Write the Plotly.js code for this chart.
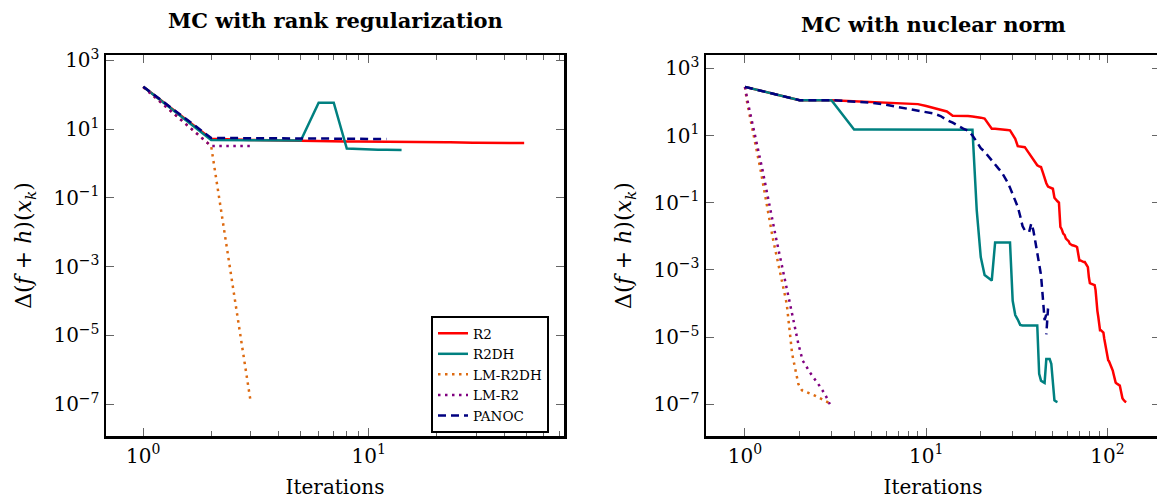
<!DOCTYPE html>
<html><head><meta charset="utf-8">
<script src="https://cdn.plot.ly/plotly-3.0.1.min.js"></script>
<style>html,body{margin:0;padding:0;overflow:hidden;background:#fff}#chart{width:1170px;height:499px}</style>
</head><body><div id="chart"></div>
<script>
// ---------- data ----------
const seriesNames = ['R2', 'R2DH', 'LM-R2DH', 'LM-R2', 'PANOC'];
const seriesColors = ['#ff0000', '#008080', '#dd6a10', '#800080', '#000080'];

// Left panel: MC with rank regularization (value per iteration 1..n)
const rankR2 = [170, 5.2, 4.8, 4.6, 4.5, 4.4, 4.35, 4.3, 4.3, 4.25,
  4.25, 4.2, 4.2, 4.2, 4.2, 4.15, 4.15, 4.15, 4.1, 4.1,
  4.1, 4.1, 4.1, 4.05, 4.05, 4.05, 4.05, 4.0, 4.0, 4.0,
  4.0, 4.0, 4.0, 4.0, 3.98, 3.98, 3.97, 3.97, 3.96, 3.96,
  3.95, 3.95, 3.95, 3.94, 3.94, 3.93, 3.93, 3.92, 3.92];
const rankR2DH = [170, 4.8, 4.7, 4.6, 4.6, 58, 58, 2.7, 2.6, 2.55, 2.5, 2.5, 2.45, 2.45];
const rankLMR2DH = [165, 3.2, 1.1e-7];
const rankLMR2 = [165, 3.2, 3.2];
const rankPANOC = [170, 5.5, 5.4, 5.4, 5.3, 5.3, 5.2, 5.2, 5.2, 5.1, 5.1, 5.1];

// Right panel: MC with nuclear norm
const nucR2 = [280, 113, 113, 105, 97, 93, 90, 88, 86, 76,
  66, 58, 52, 39, 39, 38, 38, 37, 36, 34,
  32, 22, 16, 16, 15.8, 15.5, 15, 14.6, 14.2, 11,
  8, 4.8, 4.7, 4.6, 4.5, 3.6, 2.9, 2.3, 1.9, 1.5,
  1.3, 1.2, 1.15, 0.8, 0.52, 0.38, 0.3, 0.29, 0.27, 0.26,
  0.14, 0.12, 0.11, 0.1, 0.019, 0.016, 0.012, 0.011, 0.0085, 0.0078,
  0.0072, 0.006, 0.0056, 0.0054, 0.0053, 0.0052, 0.005, 0.0047, 0.0025, 0.0019,
  0.0019, 0.0018, 0.0018, 0.0017, 0.0017, 0.0015, 0.0013, 0.0012, 6e-4, 4e-4,
  3.9e-4, 3.8e-4, 3.7e-4, 3.6e-4, 3.5e-4, 2.5e-4, 9e-5, 6e-5, 4e-5, 2.5e-5,
  1.6e-5, 1.6e-5, 1.5e-5, 1.4e-5, 1.35e-5, 9e-6, 6.3e-6, 4.5e-6, 3e-6, 2.2e-6,
  2e-6, 1.9e-6, 1.7e-6, 1.5e-6, 1.3e-6, 1.1e-6, 1e-6, 8e-7, 6e-7, 4.6e-7,
  4.4e-7, 4.2e-7, 4e-7, 3.9e-7, 3.8e-7, 3.7e-7, 3.6e-7, 2.8e-7, 2e-7, 1.6e-7,
  1.5e-7, 1.4e-7, 1.3e-7, 1.25e-7, 1.2e-7, 1.18e-7, 1.15e-7];
const nucR2DH = [280, 113, 113,
  15, 15, 15, 15, 15, 15, 15, 15, 15, 15, 15, 15, 15, 15,
  14.8, 0.06, 2.4e-3, 7e-4, 5.7e-4, 4.8e-4,
  6.5e-3, 6.5e-3, 6.5e-3, 6.5e-3, 6.5e-3, 6.5e-3,
  1.2e-4, 4.5e-5, 3.3e-5, 2.3e-5,
  2.2e-5, 2.2e-5, 2.2e-5, 2.2e-5, 2.2e-5, 2.2e-5, 2.2e-5, 2.2e-5,
  8e-7, 5e-7, 4.6e-7, 4.3e-7,
  2.2e-6, 2.2e-6, 2.2e-6,
  1.6e-6, 4.2e-7, 1.3e-7, 1.2e-7, 1.15e-7];
const nucLMR2DHIter = [1, 1.03, 1.22, 1.42, 1.7, 1.82, 1.97, 2.06, 2.43, 2.9];
const nucLMR2DH = [280, 90, 0.93, 9.5e-3, 9.8e-5, 3.2e-6, 4e-7, 2.6e-7, 1.8e-7, 1.1e-7];
const nucLMR2Iter = [1, 1.04, 1.25, 1.48, 1.77, 1.97, 2.08, 2.31, 2.57, 2.76, 2.94];
const nucLMR2 = [280, 90, 0.93, 9.5e-3, 1e-4, 6.3e-6, 2e-6, 8e-7, 3.6e-7, 2e-7, 1e-7];
const nucPANOCIter = [1, 2, 3, 4, 5, 6, 7, 8, 9, 10, 11, 12, 13, 14, 15, 16, 17, 18, 19, 20,
  21, 22, 23, 24, 25, 26, 27, 28, 29, 30, 31, 32, 33, 34, 35, 36, 37, 38, 39, 40,
  41, 42, 43, 44, 45, 47, 46];
const nucPANOC = [280, 113, 113, 105, 95, 82, 70, 62, 55, 50, 45, 38, 29, 24, 19, 16, 14, 10, 6.5, 4.2,
  3.3, 2.4, 1.8, 1.3, 1.05, 0.83, 0.6, 0.42, 0.28, 0.17, 0.11, 0.075, 0.04, 0.02, 0.015, 0.014, 0.0135, 0.024, 0.015, 0.007,
  0.0035, 0.0016, 7e-4, 1.5e-4, 3.2e-5, 7e-5, 1.2e-5];

// ticks
const xTickVals = [1, 10, 100];
const xTickText = ['10<sup>0</sup>', '10<sup>1</sup>', '10<sup>2</sup>'];
const xMinorVals = [2, 3, 4, 5, 6, 7, 8, 9, 20, 30, 40, 50, 60, 70, 80, 90, 200, 300, 400, 500, 600, 700, 800, 900];
const yTickVals = [1e-7, 1e-5, 1e-3, 1e-1, 1e1, 1e3];
const yTickText = ['10<sup>−7</sup>', '10<sup>−5</sup>', '10<sup>−3</sup>', '10<sup>−1</sup>', '10<sup>1</sup>', '10<sup>3</sup>'];
const panelTitles = ['MC with rank regularization', 'MC with nuclear norm'];
const xTitle = 'Iterations';
const yTitle = 'Δ(<i>f</i> + <i>h</i>)(<i>x</i><sub><i>k</i></sub>)';

// ---------- build ----------
const iters = v => v.map((_, i) => i + 1);
const dashes = ['solid', 'solid', '2.5px,4.5px', '2.5px,4.5px', '8px,5px'];
function tr(k, x, y, ax, show) {
  return {
    type: 'scatter', mode: 'lines', x: x, y: y, name: seriesNames[k],
    xaxis: ax === 1 ? 'x' : 'x2', yaxis: ax === 1 ? 'y' : 'y2',
    legendgroup: seriesNames[k], showlegend: show,
    line: {color: seriesColors[k], width: 2.5, dash: dashes[k]},
    hoverinfo: 'x+y+name'
  };
}
const data = [
  tr(0, iters(rankR2), rankR2, 1, true),
  tr(1, iters(rankR2DH), rankR2DH, 1, true),
  tr(2, iters(rankLMR2DH), rankLMR2DH, 1, true),
  tr(3, iters(rankLMR2), rankLMR2, 1, true),
  tr(4, iters(rankPANOC), rankPANOC, 1, true),
  tr(0, iters(nucR2), nucR2, 2, false),
  tr(1, iters(nucR2DH), nucR2DH, 2, false),
  tr(2, nucLMR2DHIter, nucLMR2DH, 2, false),
  tr(3, nucLMR2Iter, nucLMR2, 2, false),
  tr(4, nucPANOCIter, nucPANOC, 2, false)
];

const W = 1170, H = 499;
const tickFont = {family: 'DejaVu Serif', size: 20, color: '#000'};
const xTitleFont = {family: 'DejaVu Serif', size: 20, color: '#000'};
const yTitleFont = {family: 'DejaVu Serif', size: 22, color: '#000'};
function xAx(domain, range, anchor) {
  return {
    type: 'log', domain: domain, range: range, anchor: anchor,
    showline: true, linecolor: '#000', linewidth: 2.5, mirror: 'allticks',
    ticks: 'inside', ticklen: 8, tickwidth: 1, tickcolor: '#666',
    tickmode: 'array', tickvals: xTickVals, ticktext: xTickText, tickfont: tickFont,
    showgrid: false, zeroline: false,
    minor: {tickmode: 'array', tickvals: xMinorVals, ticks: 'inside', ticklen: 5, tickwidth: 1, tickcolor: '#666', showgrid: false},
    title: {text: xTitle, font: xTitleFont, standoff: 15}
  };
}
function yAx(range, anchor) {
  return {
    type: 'log', domain: [0, 1], range: range, anchor: anchor,
    showline: true, linecolor: '#000', linewidth: 2.5, mirror: 'allticks',
    ticks: 'inside', ticklen: 8, tickwidth: 1, tickcolor: '#666',
    tickmode: 'array', tickvals: yTickVals, ticktext: yTickText, tickfont: tickFont,
    showgrid: false, zeroline: false,
    title: {text: yTitle, font: yTitleFont, standoff: 16}
  };
}
const layout = {
  width: W, height: H,
  margin: {l: 0, r: 0, t: 55, b: 63},
  paper_bgcolor: '#fff', plot_bgcolor: '#fff',
  font: {family: 'DejaVu Serif', color: '#000'},
  xaxis: xAx([106 / W, 564 / W], [-0.1656, 1.867], 'y'),
  yaxis: yAx([-7.924, 3.151], 'x'),
  xaxis2: xAx([706 / W, 1160 / W], [-0.215, 2.29], 'y2'),
  yaxis2: yAx([-7.948, 3.397], 'x2'),
  showlegend: true,
  legend: {
    x: 549 / W, xanchor: 'right', y: 0.315, yanchor: 'top',
    bgcolor: '#fff', bordercolor: '#000', borderwidth: 2,
    font: {family: 'DejaVu Serif', size: 13.5, color: '#000'},
    tracegroupgap: 0
  },
  annotations: [
    {text: '<b>' + panelTitles[0] + '</b>', xref: 'paper', yref: 'paper', x: 335 / W, y: (436 - 20) / 381,
     xanchor: 'center', yanchor: 'middle', showarrow: false, font: {family: 'DejaVu Serif', size: 21, color: '#000'}},
    {text: '<b>' + panelTitles[1] + '</b>', xref: 'paper', yref: 'paper', x: 933 / W, y: (436 - 25) / 381,
     xanchor: 'center', yanchor: 'middle', showarrow: false, font: {family: 'DejaVu Serif', size: 21, color: '#000'}}
  ]
};
Plotly.newPlot('chart', data, layout, {displayModeBar: false, staticPlot: true});
</script>
</body></html>
